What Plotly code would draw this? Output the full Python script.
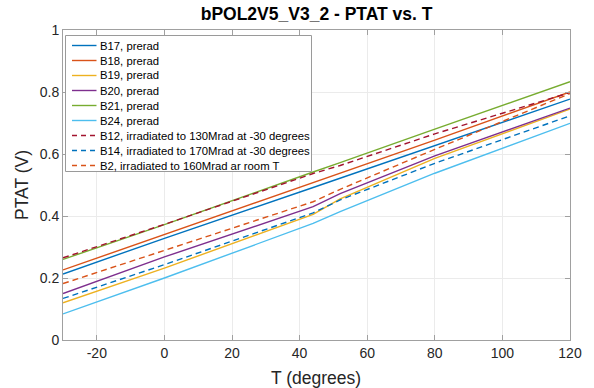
import plotly.graph_objects as go

# Temperature sample points (degrees)
T = [-30, 0, 44, 52, 80, 120]

# PTAT (V)
B17 = [0.213, 0.328, 0.492, 0.522, 0.625, 0.777]
B18 = [0.226, 0.340, 0.508, 0.538, 0.645, 0.800]
B19 = [0.120, 0.232, 0.405, 0.455, 0.586, 0.745]
B20 = [0.150, 0.268, 0.430, 0.472, 0.594, 0.748]
B21 = [0.260, 0.372, 0.542, 0.572, 0.680, 0.833]
B24 = [0.084, 0.200, 0.376, 0.414, 0.538, 0.699]
B12 = [0.265, 0.373, 0.537, 0.563, 0.665, 0.798]
B14 = [0.134, 0.243, 0.410, 0.452, 0.570, 0.723]
B2 = [0.182, 0.288, 0.446, 0.486, 0.615, 0.795]

x_ticks = [-20, 0, 20, 40, 60, 80, 100, 120]
x_tick_labels = ["-20", "0", "20", "40", "60", "80", "100", "120"]
y_ticks = [0, 0.2, 0.4, 0.6, 0.8, 1]
y_tick_labels = ["0", "0.2", "0.4", "0.6", "0.8", "1"]

names = [
    "B17, prerad", "B18, prerad", "B19, prerad", "B20, prerad", "B21, prerad",
    "B24, prerad", "B12, irradiated to 130Mrad at -30 degrees",
    "B14, irradiated to 170Mrad at -30 degrees", "B2, irradiated to 160Mrad ar room T",
]
series = [B17, B18, B19, B20, B21, B24, B12, B14, B2]
colors = ["#0072BD", "#D95319", "#EDB120", "#7E2F8E", "#77AC30", "#4DBEEE",
          "#A2142F", "#0072BD", "#D95319"]
dashes = ["solid"] * 6 + ["6px,4px"] * 3

fig = go.Figure()
for n, s, c, d in zip(names, series, colors, dashes):
    fig.add_trace(go.Scatter(x=T, y=s, name=n, mode="lines", showlegend=False,
                             line=dict(color=c, width=1.4, dash=d)))

# Compact MATLAB-style legend (box, line samples and text)
W, H, L, TOP = 507.0, 310.0, 63.0, 30.0
def px(xp):
    return (xp - L) / W
def py(yp):
    return (TOP + H - yp) / H

box = dict(x0=65.5, x1=311.5, y0=35.5, y1=171.5)
shapes = [dict(type="rect", xref="paper", yref="paper",
               x0=px(box["x0"]), x1=px(box["x1"]), y0=py(box["y1"]), y1=py(box["y0"]),
               line=dict(color="#9a9a9a", width=1), fillcolor="white", layer="above")]
annotations = []
row0, step = 45.5, 15.0
for i, (n, c, d) in enumerate(zip(names, colors, dashes)):
    yc = row0 + i * step
    shapes.append(dict(type="line", xref="paper", yref="paper",
                       x0=px(72), x1=px(96.5), y0=py(yc), y1=py(yc),
                       line=dict(color=c, width=1.4,
                                 dash="5px,4px" if d != "solid" else "solid"),
                       layer="above"))
    annotations.append(dict(xref="paper", yref="paper", x=px(98), y=py(yc),
                            xanchor="left", yanchor="middle", showarrow=False,
                            text=n, font=dict(size=11.3, color="black")))

# Axis titles
annotations.append(dict(xref="paper", yref="paper", x=px(316), y=py(378),
                        xanchor="center", yanchor="middle", showarrow=False,
                        text="T (degrees)", font=dict(size=17.5, color="#262626")))
annotations.append(dict(xref="paper", yref="paper", x=px(22), y=py(185),
                        xanchor="center", yanchor="middle", showarrow=False,
                        textangle=-90, text="PTAT (V)",
                        font=dict(size=17.5, color="#262626")))

font = "Liberation Sans, Arial, Helvetica, sans-serif"
fig.update_layout(
    width=594, height=388,
    margin=dict(l=63, r=24, t=30, b=48, autoexpand=False),
    paper_bgcolor="white", plot_bgcolor="white",
    font=dict(family=font, color="#262626", size=14),
    title=dict(text="<b>bPOL2V5_V3_2 - PTAT vs. T</b>", x=0.533, xanchor="center",
               y=0.963, yanchor="middle", font=dict(size=17.5, color="black")),
    shapes=shapes, annotations=annotations,
    showlegend=False,
)
axis_common = dict(showline=True, linecolor="#a0a0a0", linewidth=1, mirror="ticks",
                   ticks="inside", ticklen=5, tickcolor="#a0a0a0",
                   showgrid=True, gridcolor="#ebebeb", gridwidth=1, zeroline=False,
                   automargin=False,
                   tickfont=dict(size=14, color="#262626"))
fig.update_xaxes(range=[-30, 120], tickvals=x_ticks, ticktext=x_tick_labels,
                 **axis_common)
fig.update_yaxes(range=[0, 1], tickvals=y_ticks, ticktext=y_tick_labels,
                 **axis_common)

fig.write_html("out.html")
